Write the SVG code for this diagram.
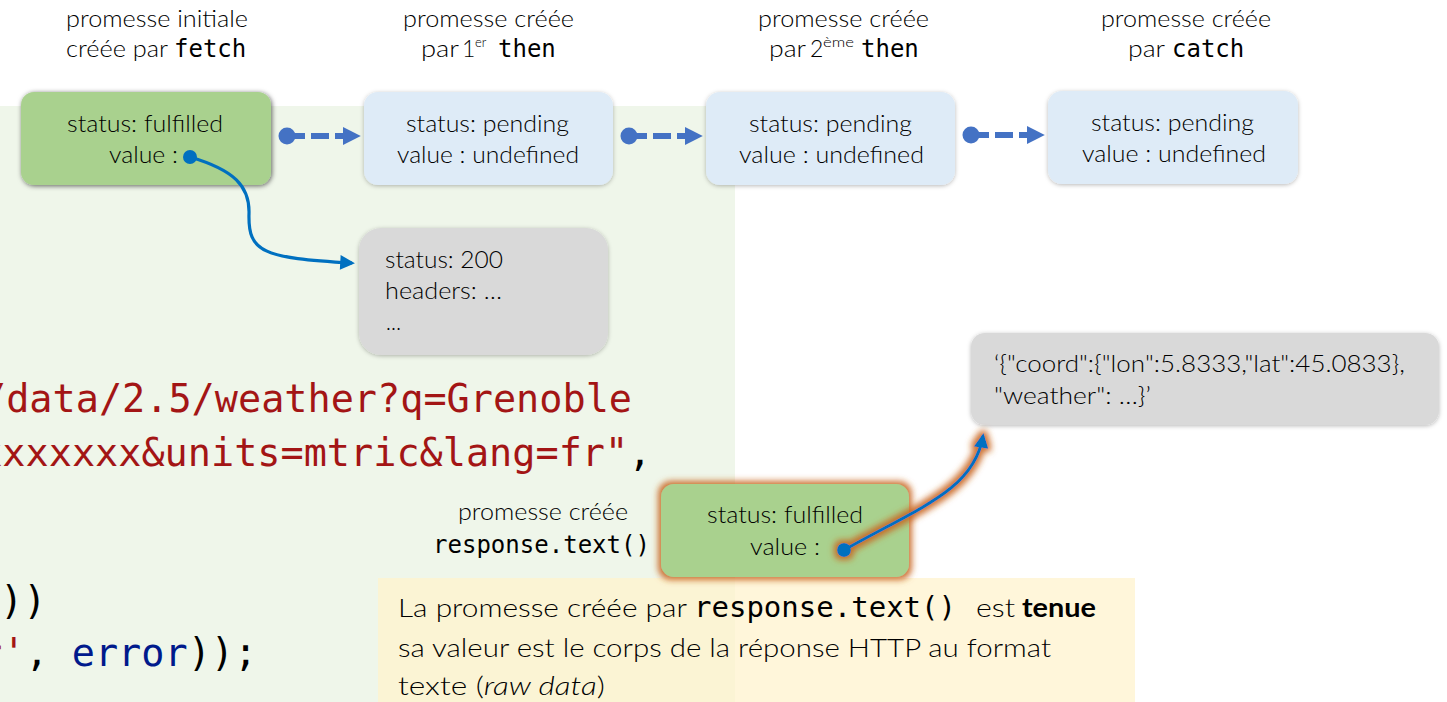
<svg xmlns="http://www.w3.org/2000/svg" width="1447" height="702" viewBox="0 0 1447 702">
  <defs>
    <style>
      .lbl { font-family: Lato, "Open Sans", "Liberation Sans", sans-serif; font-weight: 300; font-size: 23px; fill: #000000; }
      .mono { font-family: "DejaVu Sans Mono", "Liberation Mono", monospace; font-size: 24px; fill: #000000; }
      .mono-lg { font-family: "DejaVu Sans Mono", "Liberation Mono", monospace; font-size: 28.8px; fill: #000000; }
      .sup { font-family: Lato, "Open Sans", "Liberation Sans", sans-serif; font-weight: 300; font-size: 13px; fill: #000000; }
      .code { font-family: "DejaVu Sans Mono", "Liberation Mono", monospace; font-size: 38.5px; }
      .str { fill: #a31515; }
      .pun { fill: #000000; }
      .var { fill: #001a8c; }
      .body { font-family: Lato, "Open Sans", "Liberation Sans", sans-serif; font-weight: 300; font-size: 26px; fill: #000000; }
      .strong { font-family: Lato, "Open Sans", "Liberation Sans", sans-serif; font-weight: 700; font-size: 26px; fill: #000000; }
      .fulfilled { fill: #a9d18e; }
      .pending { fill: #deebf7; }
      .obj { fill: #d9d9d9; }
      .dash { stroke: #4472c4; stroke-width: 6; stroke-dasharray: 18 6; fill: none; }
      .dot { fill: #4472c4; }
      .ref { stroke: #0070c0; stroke-width: 3.2; fill: none; }
      .refdot { fill: #0070c0; }
    </style>
    <marker id="tri" viewBox="0 0 10 10" refX="9" refY="5" markerWidth="3" markerHeight="3.2" orient="auto" markerUnits="strokeWidth">
      <path d="M0,0 L10,5 L0,10 Z" fill="#4472c4"/>
    </marker>
    <marker id="tri2" viewBox="0 0 10 10" refX="8" refY="5" markerWidth="5.2" markerHeight="4.6" orient="auto" markerUnits="strokeWidth">
      <path d="M0,0 L10,5 L0,10 Z" fill="#0070c0"/>
    </marker>
    <filter id="shadow" x="-20%" y="-30%" width="140%" height="160%">
      <feDropShadow dx="0" dy="1" stdDeviation="2.2" flood-color="#000" flood-opacity="0.28"/>
    </filter>
    <filter id="shadowDark" x="-20%" y="-30%" width="140%" height="160%">
      <feDropShadow dx="1" dy="1" stdDeviation="2.6" flood-color="#000" flood-opacity="0.6"/>
    </filter>
    <filter id="glow" x="-30%" y="-40%" width="160%" height="180%">
      <feMorphology in="SourceAlpha" operator="dilate" radius="3" result="fat"/>
      <feGaussianBlur in="fat" stdDeviation="3.4" result="soft"/>
      <feFlood flood-color="#c8641e" flood-opacity="0.9"/>
      <feComposite in2="soft" operator="in" result="halo"/>
      <feMerge>
        <feMergeNode in="halo"/>
        <feMergeNode in="SourceGraphic"/>
      </feMerge>
    </filter>
  </defs>

  <!-- page backgrounds -->
  <rect x="0" y="0" width="1447" height="702" fill="#ffffff"/>
  <rect x="0" y="106" width="735" height="596" fill="#eff6ea"/>

  <!-- code excerpt behind the diagram -->
  <g id="code" class="code">
    <text x="-17" y="412" class="str">/data/2.5/weather?q=Grenoble</text>
    <text x="-44" y="466"><tspan class="str">xxxxxxxx&amp;units=mtric&amp;lang=fr"</tspan><tspan class="pun">,</tspan></text>
    <text x="0" y="614" class="pun">))</text>
    <text x="-21" y="666"><tspan class="str">r'</tspan><tspan class="pun">, </tspan><tspan class="var">error</tspan><tspan class="pun">));</tspan></text>
  </g>

  <!-- note box -->
  <g id="note">
    <rect x="378" y="578" width="757" height="124" fill="#fff2cc" fill-opacity="0.72"/>
    <text class="body" x="398" y="617" textLength="289" lengthAdjust="spacingAndGlyphs">La promesse créée par</text>
    <text class="mono-lg" x="694" y="617" textLength="262" lengthAdjust="spacingAndGlyphs">response.text()</text>
    <text class="body" x="976" y="617" textLength="39" lengthAdjust="spacingAndGlyphs">est</text>
    <text class="strong" x="1022" y="617" textLength="74" lengthAdjust="spacingAndGlyphs">tenue</text>
    <text class="body" x="398" y="657" textLength="653" lengthAdjust="spacingAndGlyphs">sa valeur est le corps de la réponse HTTP au format</text>
    <text class="body" x="398" y="695" textLength="207" lengthAdjust="spacingAndGlyphs">texte (<tspan font-style="italic">raw data</tspan>)</text>
  </g>

  <!-- captions above the promise chain -->
  <g id="captions">
    <text class="lbl" x="66" y="27" textLength="182" lengthAdjust="spacingAndGlyphs">promesse initiale</text>
    <text class="lbl" x="66" y="57" textLength="102" lengthAdjust="spacingAndGlyphs">créée par</text>
    <text class="mono" x="174" y="57">fetch</text>

    <text class="lbl" x="403" y="27" textLength="171" lengthAdjust="spacingAndGlyphs">promesse créée</text>
    <text class="lbl" x="421" y="57" textLength="38" lengthAdjust="spacingAndGlyphs">par</text>
    <text class="lbl" x="462" y="57">1</text>
    <text class="sup" x="475" y="47">er</text>
    <text class="mono" x="498" y="57">then</text>

    <text class="lbl" x="758" y="27" textLength="171" lengthAdjust="spacingAndGlyphs">promesse créée</text>
    <text class="lbl" x="769" y="57" textLength="37" lengthAdjust="spacingAndGlyphs">par</text>
    <text class="lbl" x="810" y="57">2</text>
    <text class="sup" x="823" y="47" textLength="31" lengthAdjust="spacingAndGlyphs">ème</text>
    <text class="mono" x="861" y="57">then</text>

    <text class="lbl" x="1101" y="27" textLength="170" lengthAdjust="spacingAndGlyphs">promesse créée</text>
    <text class="lbl" x="1128" y="57" textLength="37" lengthAdjust="spacingAndGlyphs">par</text>
    <text class="mono" x="1172" y="57">catch</text>
  </g>

  <!-- promise chain -->
  <g id="p-fetch">
    <rect x="21" y="92" width="250" height="93" rx="13" class="fulfilled" filter="url(#shadowDark)"/>
    <text class="lbl" x="67" y="132" textLength="156" lengthAdjust="spacingAndGlyphs">status: fulfilled</text>
    <text class="lbl" x="109" y="163" textLength="69" lengthAdjust="spacingAndGlyphs">value :</text>
  </g>
  <g id="p-then1">
    <rect x="364" y="92" width="249" height="93" rx="14" class="pending" filter="url(#shadow)"/>
    <text class="lbl" x="406" y="132" textLength="163" lengthAdjust="spacingAndGlyphs">status: pending</text>
    <text class="lbl" x="397" y="163" textLength="182" lengthAdjust="spacingAndGlyphs">value : undefined</text>
  </g>
  <g id="p-then2">
    <rect x="706" y="92" width="249" height="93" rx="14" class="pending" filter="url(#shadow)"/>
    <text class="lbl" x="749" y="132" textLength="163" lengthAdjust="spacingAndGlyphs">status: pending</text>
    <text class="lbl" x="739" y="163" textLength="185" lengthAdjust="spacingAndGlyphs">value : undefined</text>
  </g>
  <g id="p-catch">
    <rect x="1048" y="91" width="250" height="93" rx="14" class="pending" filter="url(#shadow)"/>
    <text class="lbl" x="1091" y="131" textLength="163" lengthAdjust="spacingAndGlyphs">status: pending</text>
    <text class="lbl" x="1082" y="162" textLength="184" lengthAdjust="spacingAndGlyphs">value : undefined</text>
  </g>

  <!-- response object -->
  <g id="response">
    <rect x="359" y="228" width="249" height="127" rx="22" class="obj" filter="url(#shadow)"/>
    <text class="lbl" x="385" y="268" textLength="118" lengthAdjust="spacingAndGlyphs">status: 200</text>
    <text class="lbl" x="385" y="299" textLength="117" lengthAdjust="spacingAndGlyphs">headers: …</text>
    <text class="lbl" x="386" y="330" textLength="15" lengthAdjust="spacingAndGlyphs">…</text>
  </g>

  <!-- raw body text -->
  <g id="body-text">
    <rect x="971" y="333" width="468" height="92" rx="14" class="obj" filter="url(#shadow)"/>
    <text class="lbl" x="994" y="372" textLength="411" lengthAdjust="spacingAndGlyphs">‘{"coord":{"lon":5.8333,"lat":45.0833},</text>
    <text class="lbl" x="994" y="404" textLength="157" lengthAdjust="spacingAndGlyphs">"weather": …}’</text>
  </g>

  <!-- promise returned by response.text() -->
  <g id="p-text">
    <text class="lbl" x="458" y="520" textLength="170" lengthAdjust="spacingAndGlyphs">promesse créée</text>
    <text class="mono" x="433" y="553" textLength="217" lengthAdjust="spacingAndGlyphs">response.text()</text>
    <rect x="661" y="484" width="248" height="93" rx="13" class="fulfilled" filter="url(#glow)"/>
    <text class="lbl" x="707" y="523" textLength="156" lengthAdjust="spacingAndGlyphs">status: fulfilled</text>
    <text class="lbl" x="750" y="555" textLength="70" lengthAdjust="spacingAndGlyphs">value :</text>
  </g>

  <!-- connectors -->
  <g id="connectors">
    <circle cx="287" cy="136" r="8.5" class="dot"/>
    <path d="M287,136 H359" class="dash" marker-end="url(#tri)"/>
    <circle cx="629" cy="136" r="8.5" class="dot"/>
    <path d="M629,136 H701" class="dash" marker-end="url(#tri)"/>
    <circle cx="971" cy="135" r="8.5" class="dot"/>
    <path d="M971,135 H1043" class="dash" marker-end="url(#tri)"/>

    <circle cx="190" cy="157" r="7" class="refdot"/>
    <path d="M190,157 C234,170 250,186 249,214 C248,252 262,258 352,263" class="ref" marker-end="url(#tri2)"/>

    <g filter="url(#glow)">
      <circle cx="844" cy="550" r="7" class="refdot"/>
      <path d="M844,550 C920,507 974,490 983,436" class="ref" marker-end="url(#tri2)"/>
    </g>
  </g>
</svg>
